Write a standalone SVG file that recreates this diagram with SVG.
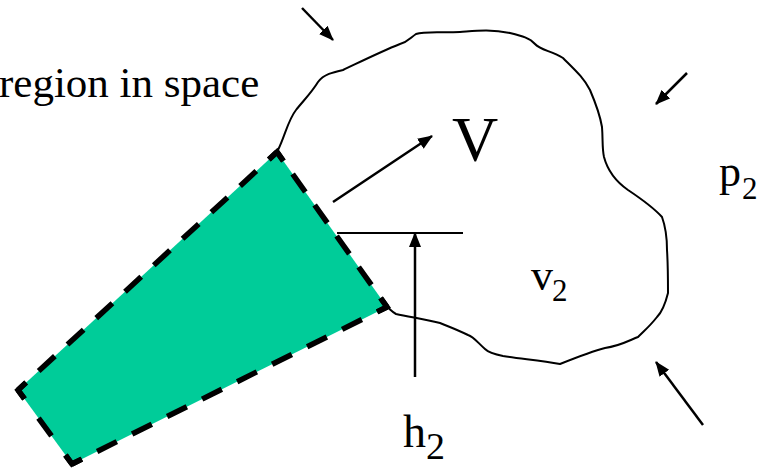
<svg xmlns="http://www.w3.org/2000/svg" width="769" height="468" viewBox="0 0 769 468">
<style>
.t{font-family:"Liberation Serif","Times New Roman",serif;fill:#000}
.ar{stroke:#000;stroke-width:2.5;fill:none;marker-end:url(#ah)}
.ln{stroke:#000;stroke-width:2;fill:none}
.de{stroke:#000;stroke-width:5.5;fill:none;stroke-dashoffset:11}
.co{stroke:#000;stroke-width:5.5;fill:none;stroke-linejoin:miter;stroke-miterlimit:10}
</style>
<defs>
<marker id="ah" markerUnits="userSpaceOnUse" markerWidth="16" markerHeight="14" viewBox="0 0 16 14" refX="14" refY="6" orient="auto">
<path d="M0,0 L15,6 L0,12 z" fill="#000"/>
</marker>
</defs>
<rect width="769" height="468" fill="#fff"/>
<g id="pipe">
<polygon points="277,152 387,307 72,464 18,390" fill="#00CC99"/>
<path class="de" d="M277,152 L387,307" stroke-dasharray="22 16.01"/>
<path class="de" d="M387,307 L72,464" stroke-dasharray="22 17.11"/>
<path class="de" d="M72,464 L18,390" stroke-dasharray="22 23.8"/>
<path class="de" d="M18,390 L277,152" stroke-dasharray="22 17.08"/>
<polyline class="co" points="268.9,159.44 277,152 283.37,160.97"/>
<polyline class="co" points="380.63,298.03 387,307 377.15,311.91"/>
<polyline class="co" points="81.85,459.09 72,464 65.52,455.11"/>
<polyline class="co" points="24.48,398.89 18,390 26.1,382.56"/>
</g>
<g id="region">
<path class="ln" stroke-linejoin="round" d="M278,150 C285,136 288,120 296,110 C304,100 312,92 318,82 C324,74 334,72 343,70 C360,62 380,52 400,44 C408,42 410,38 416,34 C425,31 440,33 460,32 C475,31 490,29 510,33 C522,36 530,38 535,44 C540,50 552,51 563,58 C575,70 584,78 590,90 C596,104 600,115 602,127 C603,140 602,148 604,157 C608,172 618,183 628,190 C640,198 652,206 662,217 C666,228 667,238 667,250 C668,265 668,280 668,293 C665,305 662,312 657,317 C650,326 645,330 638,337 C630,340 620,346 605,348 C597,350 580,356 560,364 C540,360 520,359 503,356 C493,354 488,352 485,349 C478,343 474,337 468,335 C458,330 450,327 440,323 C428,320 410,317 396,314 C392,312 390,309 387,307"/>
</g>
<g id="connectors">
<line class="ar" x1="302" y1="8" x2="333" y2="40"/>
<line class="ar" x1="687" y1="73" x2="656" y2="104"/>
<line class="ar" x1="703" y1="425" x2="656" y2="362"/>
<line class="ar" x1="333" y1="202" x2="432" y2="136"/>
<line class="ar" x1="415" y1="377" x2="415" y2="233"/>
<line class="ln" x1="337" y1="233" x2="463" y2="233"/>
</g>
<g id="labels">
<text class="t" x="-1" y="97" font-size="43">region in space</text>
<text class="t" x="452" y="161" font-size="64">V</text>
<text class="t" x="719" y="186" font-size="44">p<tspan x="742" y="199" font-size="31">2</tspan></text>
<text class="t" x="531" y="290" font-size="44">v<tspan x="552" y="301" font-size="31">2</tspan></text>
<text class="t" x="403" y="447" font-size="46">h<tspan x="426" y="459" font-size="38">2</tspan></text>
</g>
</svg>
